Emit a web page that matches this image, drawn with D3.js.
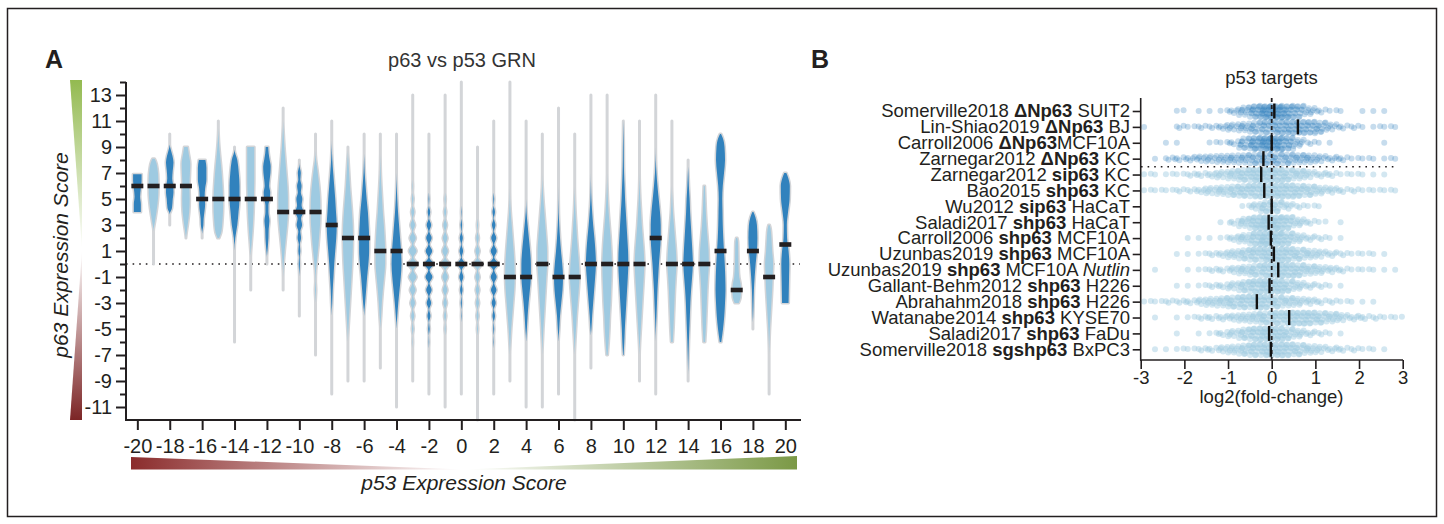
<!DOCTYPE html>
<html><head><meta charset="utf-8">
<script src="https://cdn.jsdelivr.net/npm/d3@7"></script>
<style>
body{margin:0;background:#fff}
svg{display:block}
text{font-family:"Liberation Sans",Arial,Helvetica,sans-serif;fill:#231f20}
</style>
</head><body>
<svg id="c" width="1444" height="524"></svg>
<script>
// ---------------- Panel A data ----------------
const p53Scores = [-20,-19,-18,-17,-16,-15,-14,-13,-12,-11,-10,-9,-8,-7,-6,-5,-4,-3,-2,-1,0,1,2,3,4,5,6,7,8,9,10,11,12,13,14,15,16,17,18,19,20];
const p63Medians = [6,6,6,6,5,5,5,5,5,4,4,4,3,2,2,1,1,0,0,0,0,0,0,-1,-1,0,-1,-1,0,0,0,0,2,0,0,0,1,-2,1,-1,1.5];
const p63Min = [4,0,3,2,2,2,-6,-2,0,-2,-4,-7,-10,-9,-9,-8,-11,-9,-10,-11,-10,-12,-10,-9,-11,-11,-10,-12,-8,-7,-7,-9,-10,-6,-9,-6,-6,-3,-5,-10,-3];
const p63Max = [6.9,8.1,10,9,8,11,9,9,9,12,8,10,11,9,10,10,10,13,10,13,14,9,11,14,11,10,12,10,13,13,11,11,13,11,8,6,10,2,4,3,7];
// density profile knots [p63 score, relative density] for smooth violins (null = discrete / beaded)
const violinKnots = [
 [[4,.7],[4.6,.7],[5.2,.55],[5.8,.7],[6.4,.85],[6.9,.85]],
 [[2.5,0],[3.3,.3],[4.5,.75],[5.5,.95],[6.5,.95],[7.3,.8],[7.9,.45],[8.1,.2]],
 [[3.8,0],[4.3,.45],[5,.6],[5.5,.75],[6,.7],[6.6,.5],[7.2,.6],[7.8,.75],[8.3,.55],[8.8,.2],[9.2,0]],
 [[2.2,.05],[3,.35],[4,.65],[5,.75],[6,.7],[7,.8],[7.7,.85],[8.5,.55],[9,.35]],
 [[2.3,0],[3,.25],[3.5,.3],[4,.45],[4.6,.6],[5.2,.5],[5.8,.6],[6.5,.85],[7.4,.85],[8,.65]],
 [[2,.15],[2.4,.55],[3.5,.85],[4.5,.95],[5.5,.9],[6.5,.75],[7.5,.55],[8.5,.3],[9.5,.1],[10.5,0]],
 [[1,0],[2,.15],[3,.55],[4,.8],[5,1],[6,1],[7,.85],[8,.55],[8.8,0]],
 [[0.5,0],[1.5,.15],[2.5,.35],[3.5,.5],[4.5,.6],[5.5,.65],[6.5,.7],[7.5,.7],[8.5,.7],[9,.7]],
 [[0.5,0],[1.2,.15],[2,.3],[2.7,.35],[3.3,.5],[4,.3],[4.5,.3],[5,.55],[5.5,.65],[6,.45],[6.5,.55],[7,.7],[7.5,.75],[8,.55],[8.5,.35],[9,.25]],
 [[-1,0],[0,.1],[1,.3],[2,.55],[3,.8],[4,.95],[5,.95],[6,.85],[7,.65],[8,.45],[9,.25],[10,.1],[11,0]],
 [[-1,0],[-0.5,.05],[0,.12],[0.5,.06],[1,.2],[1.5,.1],[2,.35],[2.5,.2],[3,.55],[3.5,.35],[4,.8],[4.5,.45],[5,.6],[5.5,.3],[6,.45],[6.5,.2],[7,.3],[7.5,.05],[7.8,0]],
 [[-3,0],[-2,.1],[-1.3,.03],[-0.5,.1],[0.5,.35],[1.5,.6],[2.5,.8],[3.5,.95],[4.5,.95],[5.5,.85],[6.5,.6],[7.3,.35],[8,.1],[8.7,0]],
 [[-4,0],[-3,.1],[-2,.2],[-1,.35],[0,.5],[1,.7],[2,.9],[3,1],[4,.85],[5,.7],[6,.5],[7,.3],[8,.12],[9,.02],[9.5,0]],
 [[-6,0],[-5,.1],[-4,.25],[-3,.4],[-2,.55],[-1,.7],[0,.85],[1,.95],[2,1],[3,.95],[4,.8],[5,.6],[6,.4],[7,.25],[8,.1],[8.7,0]],
 [[-4,0],[-3,.2],[-2,.4],[-1,.6],[0,.85],[1,1],[2,1],[3,.9],[4,.75],[5,.5],[6,.3],[7,.12],[8,.03],[8.5,0]],
 [[-5,0],[-4,.15],[-3,.3],[-2,.5],[-1,.75],[0,.95],[1,.95],[2,.85],[3,.7],[4,.5],[5,.35],[6,.2],[7,.08],[8,.02],[8.5,0]],
 [[-5,0],[-4,.15],[-3,.35],[-2,.6],[-1,.85],[0,1],[1,.9],[2,.7],[3,.5],[4,.3],[5,.15],[6,.05],[7,0]],
 null,null,null,null,null,null,
 [[-7,0],[-6,.1],[-5,.25],[-4,.45],[-3,.65],[-2,.85],[-1,.95],[0,.9],[1,.75],[2,.55],[3,.35],[4,.15],[5,.03],[6,0]],
 [[-6,0],[-5,.15],[-4,.3],[-3,.5],[-2,.75],[-1,.95],[0,.95],[1,.8],[2,.55],[3,.3],[4,.08],[5,0]],
 [[-7,0],[-6,.08],[-5,.2],[-4,.35],[-3,.5],[-2,.65],[-1,.8],[0,.95],[1,.95],[2,.8],[3,.6],[4,.4],[5,.2],[6,.05],[7,0]],
 [[-6,0],[-5,.15],[-4,.3],[-3,.55],[-2,.8],[-1,.9],[0,.75],[1,.5],[2,.3],[3,.15],[4,.05],[6,0]],
 [[-7,0],[-6,.1],[-5,.25],[-4,.4],[-3,.6],[-2,.8],[-1,.95],[0,.85],[1,.65],[2,.45],[3,.3],[4,.15],[5,.05],[6,0]],
 [[-5.5,0],[-5,.1],[-4,.25],[-3,.45],[-2,.65],[-1,.85],[0,1],[1,.9],[2,.7],[3,.45],[4,.25],[5,.1],[6,.03],[7,0]],
 [[-7,.1],[-6,.3],[-5,.45],[-4,.55],[-3,.7],[-2,.8],[-1,.9],[0,.95],[1,.85],[2,.7],[3,.5],[4,.3],[5,.15],[6,.05],[7,0]],
 [[-7,.05],[-6,.2],[-5,.3],[-4,.45],[-3,.6],[-2,.75],[-1,.9],[0,1],[1,.95],[2,.8],[3,.65],[4,.5],[5,.35],[6,.25],[7,.15],[8,.1],[9,.08],[10,.04]],
 [[-7,0],[-6,.1],[-5,.25],[-4,.4],[-3,.55],[-2,.7],[-1,.85],[0,.95],[1,.85],[2,.65],[3,.45],[4,.3],[5,.15],[6,.05],[7,0]],
 [[-6,0],[-5,.05],[-4,.15],[-3,.25],[-2,.35],[-1,.5],[0,.65],[1,.85],[2,1],[3,1],[4,.85],[5,.6],[6,.35],[7,.15],[8,.03],[9,0]],
 [[-6,.15],[-5,.3],[-4,.4],[-3,.5],[-2,.6],[-1,.75],[0,.9],[1,.8],[2,.6],[3,.4],[4,.2],[5,.08],[6,0]],
 [[-8.5,0],[-8,.02],[-7,.08],[-6,.15],[-5,.25],[-4,.35],[-3,.45],[-2,.6],[-1,.8],[0,.95],[1,.85],[2,.7],[3,.55],[4,.4],[5,.3],[6,.15],[7,.05],[7.5,0]],
 [[-6,.15],[-5,.3],[-4,.4],[-3,.5],[-2,.6],[-1,.75],[0,.9],[1,.85],[2,.65],[3,.45],[4,.3],[5,.2],[6,.1]],
 [[-6,.15],[-5,.5],[-4,.75],[-3,.9],[-2,1],[-1,.95],[0,.85],[1,.7],[2,.55],[3,.45],[4,.4],[5,.35],[6,.45],[7,.7],[8,.9],[9,.8],[9.7,.45],[10,.1]],
 [[-3,.4],[-2.6,.75],[-2,.85],[-1.5,.75],[-1,.5],[0,.35],[1,.3],[1.7,.25],[2,.1]],
 [[-4.5,0],[-4,.05],[-3,.12],[-2,.2],[-1,.35],[0,.55],[1,.8],[2,.9],[3,.8],[3.6,.5],[4,.1]],
 [[-7,0],[-6,.05],[-5,.15],[-4,.3],[-3,.45],[-2,.6],[-1,.7],[0,.8],[1,.6],[2,.45],[2.7,.3],[3,.1]],
 [[-3,.65],[-2,.7],[-1,.75],[0,.8],[1,.65],[2,.35],[3,.3],[4,.55],[5,.85],[6,.9],[6.6,.6],[7,.2]]
];
// discrete (beaded) violins: density at each integer p63 score
const beadScores = [-3,-2,-1,0,1,2];
const beadLevels = [
 [[-6,.05],[-5,.15],[-4,.3],[-3,.45],[-2,.55],[-1,.75],[0,.9],[1,.75],[2,.6],[3,.45],[4,.3],[5,.15],[6,.05]],
 [[-6,.05],[-5,.15],[-4,.3],[-3,.45],[-2,.55],[-1,.7],[0,.9],[1,.65],[2,.55],[3,.45],[4,.25],[5,.08]],
 [[-5,.1],[-4,.2],[-3,.35],[-2,.45],[-1,.55],[0,.85],[1,.55],[2,.45],[3,.35],[4,.2],[5,.1]],
 [[-4,.05],[-3,.12],[-2,.25],[-1,.4],[0,.75],[1,.35],[2,.3],[3,.15],[4,.05]],
 [[-5,.1],[-4,.2],[-3,.3],[-2,.35],[-1,.4],[0,.85],[1,.4],[2,.25],[3,.1]],
 [[-6,.05],[-5,.1],[-4,.25],[-3,.4],[-2,.55],[-1,.6],[0,.9],[1,.6],[2,.5],[3,.35],[4,.25],[5,.1]]
];
const yTicksMajor = [-11,-9,-7,-5,-3,-1,1,3,5,7,9,11,13];
const yTicksMinor = [-10,-8,-6,-4,-2,0,2,4,6,8,10,12,14];
const xTicks = [-20,-18,-16,-14,-12,-10,-8,-6,-4,-2,0,2,4,6,8,10,12,14,16,18,20];

// ---------------- Panel B data ----------------
const studyAuthor = ["Somerville2018","Lin-Shiao2019","Carroll2006","Zarnegar2012","Zarnegar2012","Bao2015","Wu2012","Saladi2017","Carroll2006","Uzunbas2019","Uzunbas2019","Gallant-Behm2012","Abrahahm2018","Watanabe2014","Saladi2017","Somerville2018"];
const studyTarget = ["ΔNp63","ΔNp63","ΔNp63","ΔNp63","sip63","shp63","sip63","shp63","shp63","shp63","shp63","shp63","shp63","shp63","shp63","sgshp63"];
const studyCell = [" SUIT2"," BJ","MCF10A"," KC"," KC"," KC"," HaCaT"," HaCaT"," MCF10A"," MCF10A"," MCF10A"," H226"," H226"," KYSE70"," FaDu"," BxPC3"];
const studyExtra = ["","","","","","","","","","","Nutlin","","","","",""];
const studyMedianFC = [0.06,0.6,0.0,-0.19,-0.24,-0.17,0.0,-0.07,-0.02,0.05,0.15,-0.05,-0.34,0.4,-0.06,-0.02];
// counts of p53 target genes in log2FC bins of 0.25 from -3 to 3
const fcBinStart = -3, fcBinWidth = 0.25;
const fcCounts = [
 [0,0,0,2,0,1,1,2,5,10,18,26,26,20,14,8,4,2,1,0,1,1,1,0],
 [1,0,0,3,2,3,3,5,7,9,12,14,16,16,16,15,12,7,4,3,1,2,2,1],
 [0,0,1,1,0,0,2,2,4,12,20,26,24,16,8,3,1,1,0,0,0,0,1,0],
 [0,1,3,4,5,6,7,8,9,10,11,12,12,11,10,9,7,5,4,2,2,1,2,1],
 [2,1,2,2,3,4,5,7,10,13,16,18,15,12,10,7,5,4,2,2,1,1,1,0],
 [2,2,2,3,3,5,7,9,11,13,15,17,16,15,13,11,8,6,4,3,2,2,2,1],
 [0,0,0,0,0,0,0,0,0,2,6,12,12,6,3,2,1,0,0,0,0,0,0,0],
 [0,0,0,0,0,0,0,1,4,10,16,22,20,14,8,4,2,0,1,0,0,0,0,0],
 [0,0,0,0,1,1,1,2,5,9,15,20,18,13,8,5,3,1,1,0,0,0,0,0],
 [0,0,0,1,1,2,3,5,8,11,14,16,16,14,12,9,7,5,3,2,2,1,1,0],
 [0,1,0,0,1,2,3,4,6,9,12,15,16,15,13,10,8,6,4,2,2,1,1,1],
 [0,0,0,1,1,2,3,4,7,11,15,18,16,12,8,5,3,1,1,0,0,0,0,0],
 [2,2,3,3,4,6,8,10,12,14,15,14,12,10,8,6,4,3,2,1,1,1,0,0],
 [0,1,0,1,2,3,4,5,6,8,10,12,14,15,15,14,12,10,7,5,4,3,2,2],
 [0,0,0,1,0,1,2,4,7,11,15,18,16,12,8,5,3,1,1,0,0,0,0,0],
 [0,1,1,2,2,3,4,6,8,11,14,16,16,14,12,9,7,5,4,3,2,1,1,0]
];
const fcTicks = [-3,-2,-1,0,1,2,3];

// ---------------- drawing ----------------
const plainFmt = d => String(d);   // hyphen-minus as in the original figure
const svg = d3.select("#c");
const defs = svg.append("defs");
svg.append("rect").attr("x",7.5).attr("y",8.5).attr("width",1429).attr("height",508)
  .attr("fill","none").attr("stroke","#231f20").attr("stroke-width",1.5);

// Panel letters & titles
svg.append("text").attr("x",45).attr("y",68).attr("font-size",25).attr("font-weight","bold").text("A");
svg.append("text").attr("x",811).attr("y",68).attr("font-size",25).attr("font-weight","bold").text("B");
svg.append("text").attr("x",462).attr("y",66.5).attr("text-anchor","middle").attr("font-size",20).style("fill","#333").text("p63 vs p53 GRN");

// gradients
function lg(id, x1,y1,x2,y2, c1, c2){
  const g = defs.append("linearGradient").attr("id",id).attr("gradientUnits","userSpaceOnUse")
    .attr("x1",x1).attr("y1",y1).attr("x2",x2).attr("y2",y2);
  g.append("stop").attr("offset",0).attr("stop-color",c1);
  g.append("stop").attr("offset",1).attr("stop-color",c2);
}
lg("gUp",0,80,0,250,"#93ba50","#ffffff");
lg("gDown",0,250,0,420,"#ffffff","#7c2526");
lg("gLeft",131,0,464,0,"#8b2c2c","#ffffff");
lg("gRight",464,0,797,0,"#ffffff","#7b9946");
svg.append("path").attr("d","M70,80L82,80L82,250Z").attr("fill","url(#gUp)");
svg.append("path").attr("d","M82,250L82,420L70,420Z").attr("fill","url(#gDown)");
svg.append("path").attr("d","M131,457L131,469.5L464,469.5Z").attr("fill","url(#gLeft)");
svg.append("path").attr("d","M464,469.5L797,456L797,469.5Z").attr("fill","url(#gRight)");

// scales A
const xA = d3.scaleLinear().domain([-20.7,20.95]).range([126,800.7]);
const yA = d3.scaleLinear().domain([-12,14]).range([420,82]);
const wA = d3.scaleLinear().domain([0,1]).range([0,5]);

// zero dotted line
svg.append("line").attr("x1",126).attr("x2",800).attr("y1",yA(0)).attr("y2",yA(0))
  .attr("stroke","#231f20").attr("stroke-width",1.6).attr("stroke-dasharray","1.6,5");

function beadKnots(levels){
  const k=[]; k.push([levels[0][0]-0.5,0]);
  levels.forEach((l,i)=>{ k.push(l); if(i<levels.length-1){ const n=levels[i+1]; k.push([(l[0]+n[0])/2, 0.18*Math.min(l[1],n[1])]); } });
  k.push([levels[levels.length-1][0]+0.5,0]); return k;
}
const area = d3.area().curve(d3.curveMonotoneY);
const gV = svg.append("g");
p53Scores.forEach((s,i)=>{
  let knots = violinKnots[i];
  if(!knots){ knots = beadKnots(beadLevels[beadScores.indexOf(s)]); }
  const pts = [];
  if(p63Min[i] < knots[0][0]-0.01) pts.push([p63Min[i],0]);
  knots.forEach(k=>pts.push(k));
  if(p63Max[i] > knots[knots.length-1][0]+0.01) pts.push([p63Max[i],0]);
  const cx = xA(s);
  area.y(d=>yA(d[0])).x0(d=>cx-wA(d[1])).x1(d=>cx+wA(d[1]));
  gV.append("path").attr("d",area(pts))
    .attr("fill", s%2===0 ? "#3182bd" : "#9ecae1")
    .attr("stroke","#d3d5d8").attr("stroke-width",3).attr("stroke-linejoin","round").attr("paint-order","stroke");
});
// medians
svg.append("g").selectAll("rect").data(p53Scores).join("rect")
  .attr("x",d=>xA(d)-6).attr("width",12)
  .attr("y",(d,i)=>yA(p63Medians[i])-2.3).attr("height",4.6).attr("fill","#231f20");

// axes A
const axYmaj = svg.append("g").attr("transform","translate(126,0)")
  .call(d3.axisLeft(yA).tickValues(yTicksMajor).tickSize(10).tickSizeOuter(0).tickPadding(4).tickFormat(plainFmt));
const axYmin = svg.append("g").attr("transform","translate(126,0)")
  .call(d3.axisLeft(yA).tickValues(yTicksMinor).tickSize(6).tickSizeOuter(0).tickFormat(""));
axYmin.select(".domain").remove();
const axX = svg.append("g").attr("transform","translate(0,420)")
  .call(d3.axisBottom(xA).tickValues(xTicks).tickSize(10).tickSizeOuter(0).tickPadding(8.5).tickFormat(plainFmt));
[axYmaj,axYmin,axX].forEach(a=>{
  a.selectAll("path,line").attr("stroke","#231f20").attr("stroke-width",2);
  a.selectAll("text").attr("font-size",20).attr("font-family",null).style("fill","#231f20");
});
axX.select(".domain").attr("d","M125,0H801");
axYmaj.select(".domain").attr("d","M0,421V82");

svg.append("text").attr("transform","translate(68,255) rotate(-90)").attr("text-anchor","middle")
  .attr("font-size",21).attr("font-style","italic").text("p63 Expression Score");
svg.append("text").attr("x",464).attr("y",490).attr("text-anchor","middle")
  .attr("font-size",21).attr("font-style","italic").text("p53 Expression Score");

// ---------------- Panel B ----------------
const xB = d3.scaleLinear().domain([-3,3]).range([1140.7,1402.7]);
const yB = d3.scalePoint().domain(d3.range(studyAuthor.length)).range([111,349.3]);
svg.append("text").attr("x",1271.5).attr("y",84).attr("text-anchor","middle").attr("font-size",18.5).text("p53 targets");

const gDots = svg.append("g");
fcCounts.forEach((counts,r)=>{
  const dark = r<4;
  counts.forEach((n,b)=>{
    const spread = Math.min(7, 0.5*n);
    for(let j=0;j<n;j++){
      const fx = ((j+0.5)*0.6180339887)%1;
      const fy = n===1 ? 0.5 : ((j+0.5)*0.7548776662)%1;
      gDots.append("circle")
        .attr("cx", xB(fcBinStart + (b+fx)*fcBinWidth))
        .attr("cy", yB(r) + (fy-0.5)*2*spread)
        .attr("r",3)
        .attr("fill", dark ? "#3182bd" : "#9ecae1")
        .attr("fill-opacity", dark ? 0.28 : 0.45);
    }
  });
});
// dotted separator & dashed zero line
svg.append("line").attr("x1",1141).attr("x2",1398).attr("y1",166.7).attr("y2",166.7)
  .attr("stroke","#231f20").attr("stroke-width",1.6).attr("stroke-dasharray","1.6,5");
svg.append("line").attr("x1",xB(0)).attr("x2",xB(0)).attr("y1",98).attr("y2",360)
  .attr("stroke","#231f20").attr("stroke-width",1.8).attr("stroke-dasharray","4,3");
// medians B
svg.append("g").selectAll("line").data(studyMedianFC).join("line")
  .attr("x1",d=>xB(d)).attr("x2",d=>xB(d)).attr("y1",(d,i)=>yB(i)-7.5).attr("y2",(d,i)=>yB(i)+7.5)
  .attr("stroke","#111").attr("stroke-width",2.4);

const axBx = svg.append("g").attr("transform","translate(0,360)")
  .call(d3.axisBottom(xB).tickValues(fcTicks).tickSize(9).tickSizeOuter(0).tickPadding(2).tickFormat(plainFmt));
const axBy = svg.append("g").attr("transform","translate(1140.7,0)")
  .call(d3.axisLeft(yB).tickSize(8).tickSizeOuter(0).tickFormat(""));
[axBx,axBy].forEach(a=>{
  a.selectAll("path,line").attr("stroke","#231f20").attr("stroke-width",1.6);
  a.selectAll("text").attr("font-size",18.5).attr("font-family",null).style("fill","#231f20");
});
axBy.select(".domain").attr("d","M0,98V360.8");
axBx.select(".domain").attr("d","M1140,0H1403");
svg.append("text").attr("x",1271.5).attr("y",403).attr("text-anchor","middle").attr("font-size",18.5).text("log2(fold-change)");

const gLab = svg.append("g");
studyAuthor.forEach((a,i)=>{
  const t = gLab.append("text").attr("x",1130).attr("y",yB(i)+6.3).attr("text-anchor","end")
    .attr("font-size",18.5).style("white-space","pre");
  t.append("tspan").text(a+" ");
  t.append("tspan").attr("font-weight","bold").text(studyTarget[i]);
  t.append("tspan").text(studyCell[i]);
  if(studyExtra[i]) { t.append("tspan").text(" "); t.append("tspan").attr("font-style","italic").text(studyExtra[i]); }
});
</script>
</body></html>
